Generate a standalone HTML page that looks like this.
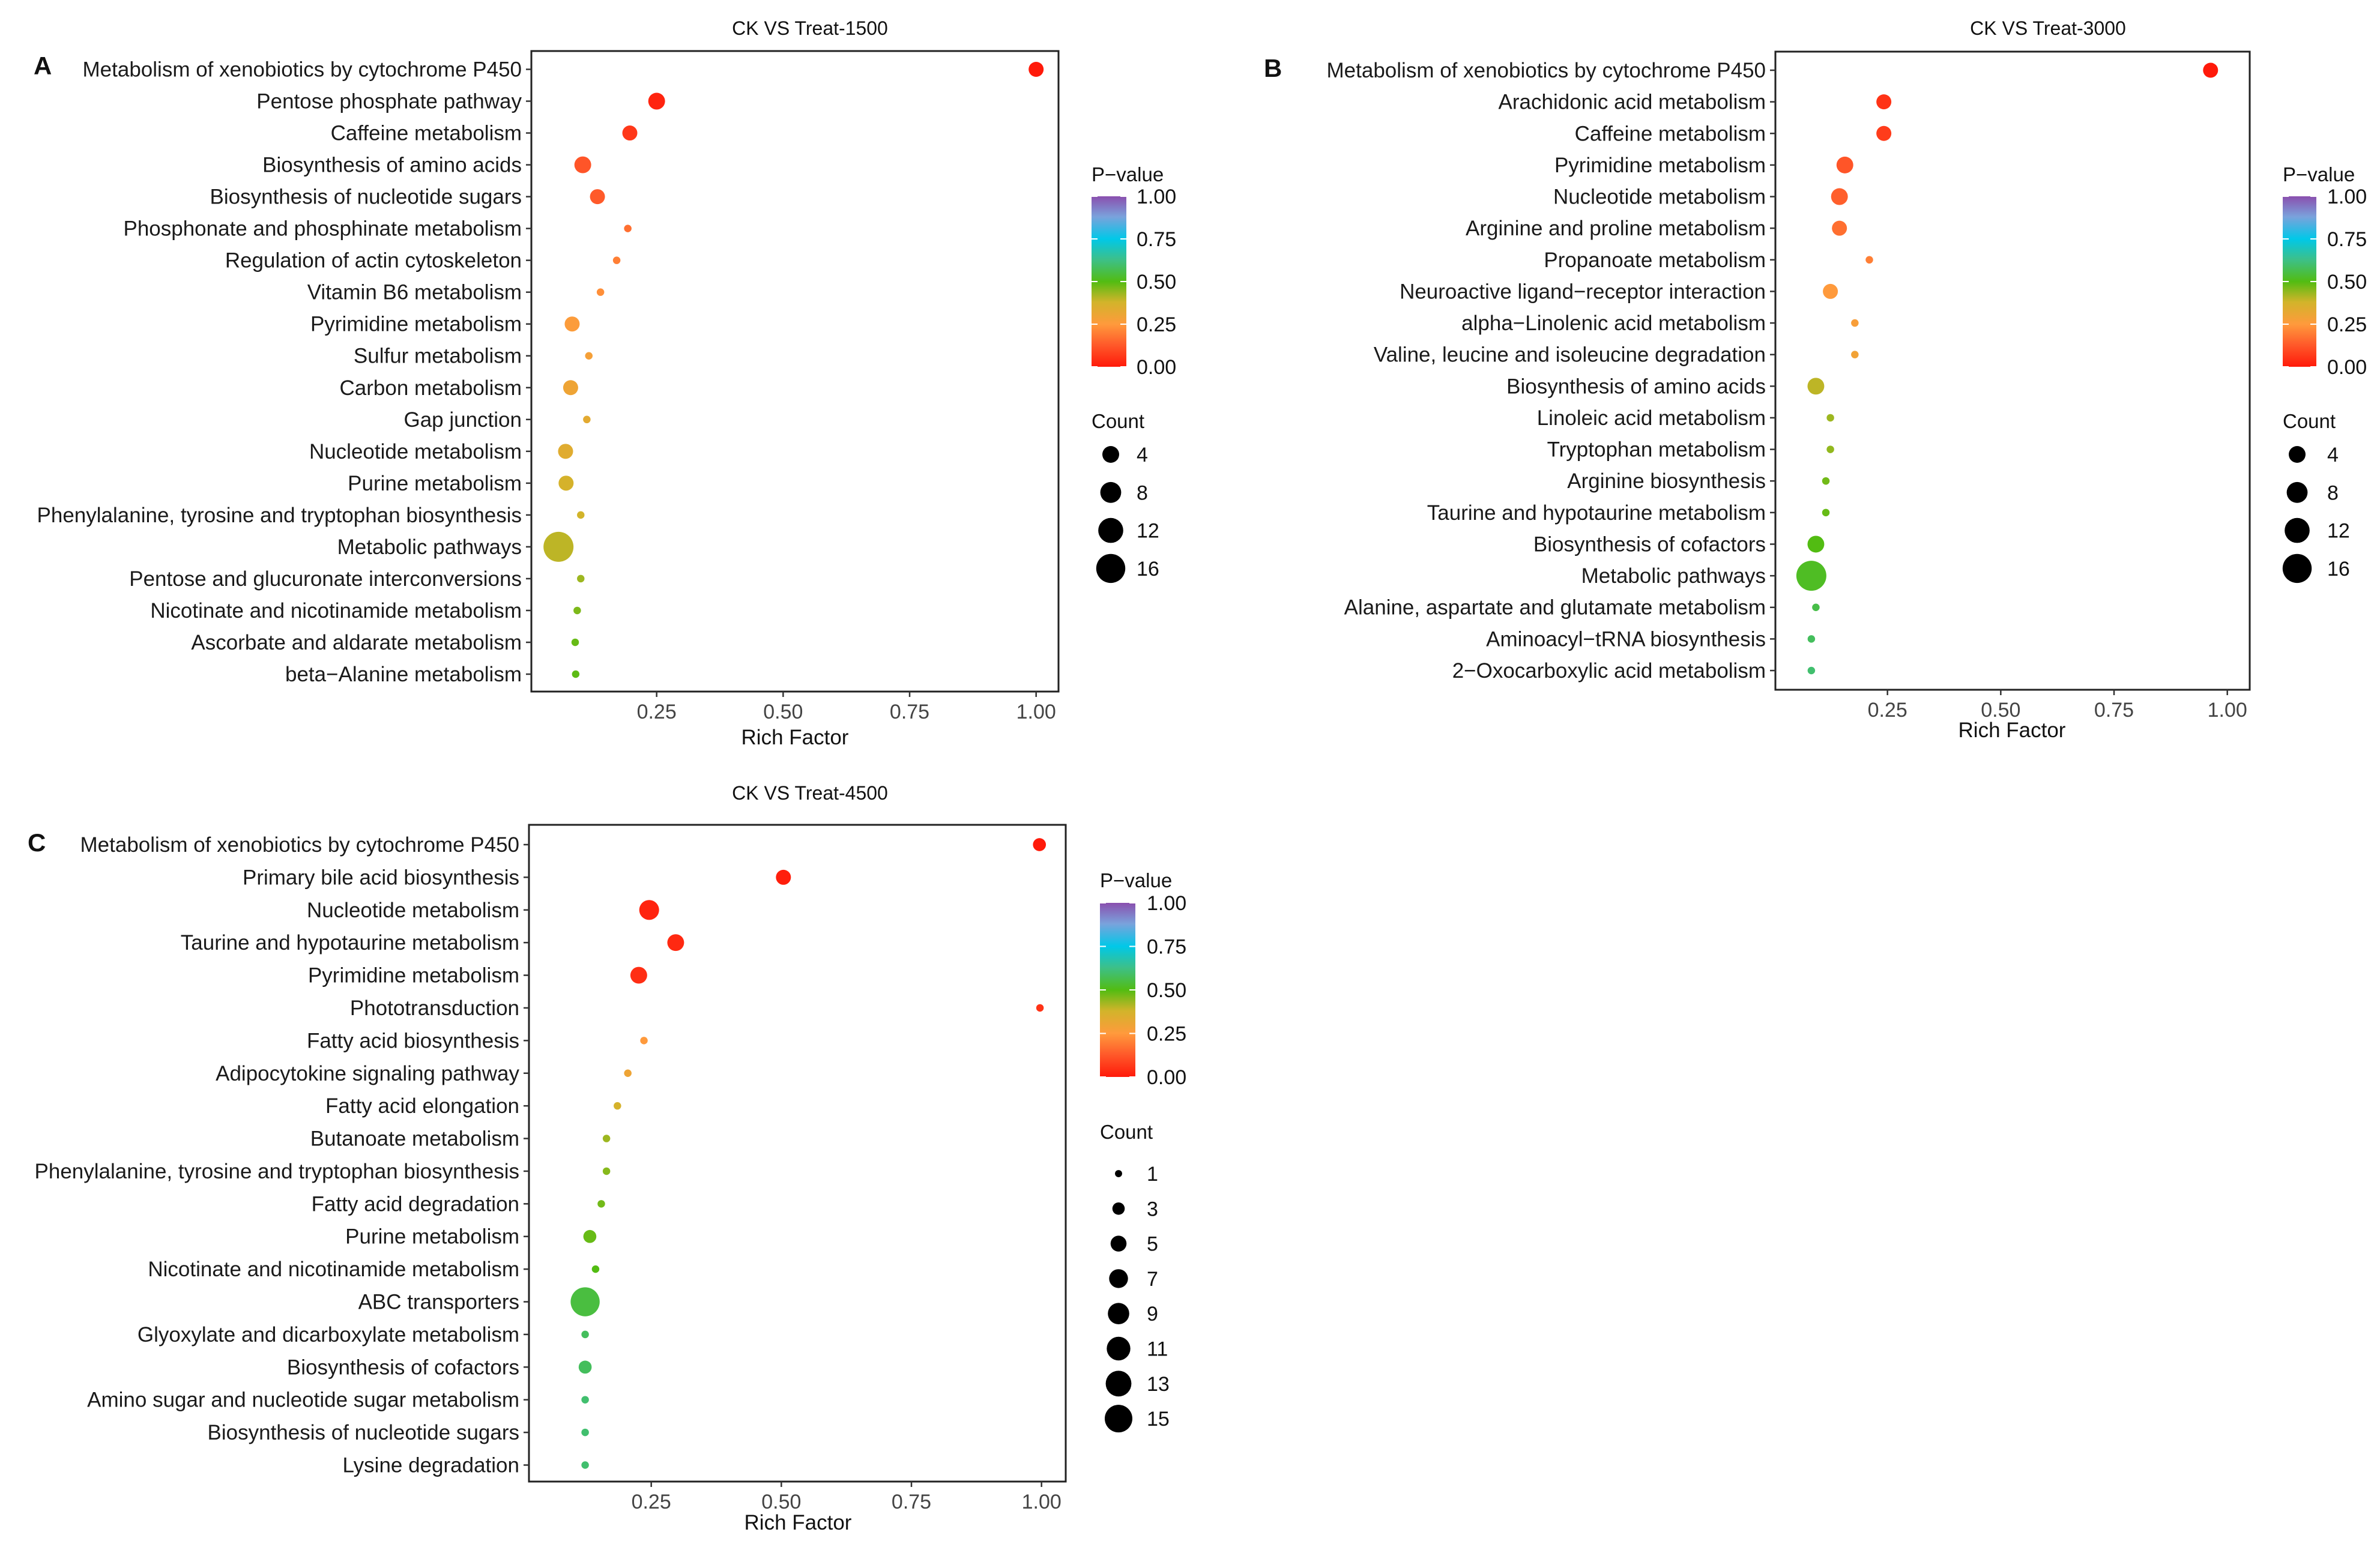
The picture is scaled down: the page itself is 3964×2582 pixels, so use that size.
<!DOCTYPE html>
<html><head><meta charset="utf-8"><style>
html,body{margin:0;padding:0;background:#fff}
svg{display:block;font-family:"Liberation Sans",Arial,sans-serif}
</style></head><body>
<svg id="fig" width="3964" height="2582" viewBox="0 0 3964 2582" xmlns="http://www.w3.org/2000/svg">
<defs>
<linearGradient id="pgrad" x1="0" y1="1" x2="0" y2="0">
<stop offset="0" stop-color="#ff1a0a"/>
<stop offset="0.13" stop-color="#ff5a2a"/>
<stop offset="0.25" stop-color="#ff9a3c"/>
<stop offset="0.38" stop-color="#d2b42a"/>
<stop offset="0.5" stop-color="#52bc12"/>
<stop offset="0.63" stop-color="#3cc08a"/>
<stop offset="0.75" stop-color="#00c8e8"/>
<stop offset="0.88" stop-color="#7aa2dc"/>
<stop offset="1" stop-color="#8a4fae"/>
</linearGradient>
</defs>
</svg>
<script>
// ---------- Panel A data ----------
const namesA = ["Metabolism of xenobiotics by cytochrome P450","Pentose phosphate pathway","Caffeine metabolism","Biosynthesis of amino acids","Biosynthesis of nucleotide sugars","Phosphonate and phosphinate metabolism","Regulation of actin cytoskeleton","Vitamin B6 metabolism","Pyrimidine metabolism","Sulfur metabolism","Carbon metabolism","Gap junction","Nucleotide metabolism","Purine metabolism","Phenylalanine, tyrosine and tryptophan biosynthesis","Metabolic pathways","Pentose and glucuronate interconversions","Nicotinate and nicotinamide metabolism","Ascorbate and aldarate metabolism","beta\u2212Alanine metabolism"];
const richA = [1.00,0.25,0.197,0.104,0.133,0.193,0.171,0.139,0.083,0.116,0.080,0.112,0.070,0.071,0.100,0.056,0.100,0.093,0.089,0.090];
const pA = [0.0,0.02,0.06,0.12,0.13,0.17,0.20,0.23,0.26,0.28,0.30,0.33,0.34,0.37,0.38,0.40,0.43,0.46,0.48,0.49];
const countA = [4,5,4,5,4,1,1,1,4,1,4,1,4,4,1,16,1,1,1,1];
// ---------- Panel B data ----------
const namesB = ["Metabolism of xenobiotics by cytochrome P450","Arachidonic acid metabolism","Caffeine metabolism","Pyrimidine metabolism","Nucleotide metabolism","Arginine and proline metabolism","Propanoate metabolism","Neuroactive ligand\u2212receptor interaction","alpha\u2212Linolenic acid metabolism","Valine, leucine and isoleucine degradation","Biosynthesis of amino acids","Linoleic acid metabolism","Tryptophan metabolism","Arginine biosynthesis","Taurine and hypotaurine metabolism","Biosynthesis of cofactors","Metabolic pathways","Alanine, aspartate and glutamate metabolism","Aminoacyl\u2212tRNA biosynthesis","2\u2212Oxocarboxylic acid metabolism"];
const richB = [0.963,0.242,0.242,0.156,0.144,0.144,0.210,0.124,0.178,0.178,0.092,0.124,0.124,0.114,0.114,0.092,0.082,0.092,0.082,0.082];
const pB = [0.0,0.05,0.07,0.12,0.14,0.17,0.20,0.25,0.27,0.29,0.40,0.43,0.44,0.47,0.48,0.50,0.52,0.56,0.58,0.60];
const countB = [4,4,4,5,5,4,1,4,1,1,5,1,1,1,1,5,16,1,1,1];
// ---------- Panel C data ----------
const namesC = ["Metabolism of xenobiotics by cytochrome P450","Primary bile acid biosynthesis","Nucleotide metabolism","Taurine and hypotaurine metabolism","Pyrimidine metabolism","Phototransduction","Fatty acid biosynthesis","Adipocytokine signaling pathway","Fatty acid elongation","Butanoate metabolism","Phenylalanine, tyrosine and tryptophan biosynthesis","Fatty acid degradation","Purine metabolism","Nicotinate and nicotinamide metabolism","ABC transporters","Glyoxylate and dicarboxylate metabolism","Biosynthesis of cofactors","Amino sugar and nucleotide sugar metabolism","Biosynthesis of nucleotide sugars","Lysine degradation"];
const richC = [0.996,0.504,0.246,0.297,0.226,0.997,0.236,0.205,0.185,0.164,0.164,0.154,0.132,0.143,0.123,0.123,0.123,0.123,0.123,0.123];
const pC = [0.0,0.01,0.02,0.03,0.04,0.05,0.25,0.30,0.37,0.43,0.45,0.47,0.48,0.50,0.55,0.58,0.58,0.60,0.60,0.60];
const countC = [3,4,7,5,5,1,1,1,1,1,1,1,3,1,15,1,3,1,1,1];
// ---------- shared ----------
const xTicks = [0.25,0.50,0.75,1.00];
const xTickLabels = ["0.25","0.50","0.75","1.00"];
const pTicks = [0,0.25,0.5,0.75,1];
const pTickLabels = ["0.00","0.25","0.50","0.75","1.00"];
const legendCountsAB = [4,8,12,16];
const legendCountsC = [1,3,5,7,9,11,13,15];

const NS = "http://www.w3.org/2000/svg";
const svg = document.getElementById('fig');
function el(tag, attrs, parent, text){
  const e = document.createElementNS(NS, tag);
  for (const k in attrs) e.setAttribute(k, attrs[k]);
  if (text !== undefined) e.textContent = text;
  (parent || svg).appendChild(e);
  return e;
}
const stops = [[0,[255,26,10]],[0.13,[255,90,42]],[0.25,[255,154,60]],[0.38,[210,180,42]],[0.5,[82,188,18]],[0.63,[60,192,138]],[0.75,[0,200,232]],[0.88,[122,162,220]],[1,[138,79,174]]];
function pColor(p){
  for (let i=0;i<stops.length-1;i++){
    const [a,ca]=stops[i],[b,cb]=stops[i+1];
    if (p<=b){const t=(p-a)/(b-a);return 'rgb('+ca.map((v,j)=>Math.round(v+(cb[j]-v)*t)).join(',')+')';}
  }
  return 'rgb(138,79,174)';
}
function sizeR(c){ return 6.25*Math.sqrt(c); }
function legendRAB(c){ return 14 + 0.85*(c-4); }
function legendRC(c){ return 6.25*Math.sqrt(c)*0.95; }

function panel(cfg, names, rich, pv, counts, legendCounts, legR){
  const g = el('g', {});
  
  
  const xs = v => cfg.x0 + v*cfg.ux;
  const n = names.length;
  const ys = i => cfg.yFirst + i*(cfg.yLast-cfg.yFirst)/(n-1);
  const t = el('text', {x:cfg.titleX, y:cfg.titleY, 'font-size':32, 'text-anchor':'middle', fill:'#111'}, g, cfg.title);
  
  
  const L = el('text', {x:cfg.letterX, y:cfg.letterY, 'font-size':42, 'font-weight':'bold', fill:'#111'}, g, cfg.letter);
  
  
  const box = el('rect', {x:cfg.left, y:cfg.top, width:cfg.right-cfg.left, height:cfg.bottom-cfg.top, fill:'none', stroke:'#222', 'stroke-width':3}, g);
  
  
  for (let i=0;i<n;i++){
    const y = ys(i);
    el('line', {x1:cfg.left-9, x2:cfg.left, y1:y, y2:y, stroke:'#333', 'stroke-width':2.5}, g);
    const lab = el('text', {x:cfg.left-16, y:y+12, 'font-size':35, 'text-anchor':'end', fill:'#1a1a1a'}, g, names[i]);
    
    
  }
  xTicks.forEach((v,i)=>{
    const x = xs(v);
    el('line', {x1:x, x2:x, y1:cfg.bottom, y2:cfg.bottom+9, stroke:'#333', 'stroke-width':2.5}, g);
    const tl = el('text', {x:x, y:cfg.bottom+45, 'font-size':34, 'text-anchor':'middle', fill:'#444'}, g, xTickLabels[i]);
    
    
  });
  const xt = el('text', {x:cfg.xTitleX, y:cfg.xTitleY, 'font-size':35, 'text-anchor':'middle', fill:'#111'}, g, 'Rich Factor');
  
  
  for (let i=0;i<n;i++){
    const c = el('circle', {cx:xs(rich[i]), cy:ys(i), r:sizeR(counts[i]), fill:pColor(pv[i])}, g);
    
    
  }
  const lg = cfg.leg;
  const pt = el('text', {x:lg.barX, y:lg.pTitleY, 'font-size':33, fill:'#111'}, g, 'P\u2212value');
  
  
  const bar = el('rect', {x:lg.barX, y:lg.barTop, width:lg.barW, height:lg.barBot-lg.barTop, fill:'url(#pgrad)'}, g);
  
  
  pTicks.forEach((v,i)=>{
    const y = lg.barBot - v*(lg.barBot-lg.barTop);
    el('line', {x1:lg.barX, x2:lg.barX+10, y1:y, y2:y, stroke:'#fff', 'stroke-width':2}, g);
    el('line', {x1:lg.barX+lg.barW-10, x2:lg.barX+lg.barW, y1:y, y2:y, stroke:'#fff', 'stroke-width':2}, g);
    const tl = el('text', {x:lg.labX, y:y+12, 'font-size':34, fill:'#111'}, g, pTickLabels[i]);
    
    
  });
  const ct = el('text', {x:lg.barX, y:lg.cTitleY, 'font-size':33, fill:'#111'}, g, 'Count');
  
  
  legendCounts.forEach((c,i)=>{
    const y = lg.cFirst + i*lg.cStep;
    const k = el('circle', {cx:lg.cX, cy:y, r:legR(c), fill:'#000'}, g);
    
    
    const kl = el('text', {x:lg.labX, y:y+12, 'font-size':34, fill:'#111'}, g, String(c));
    
    
  });
}

panel({id:'a', title:'CK VS Treat-1500', titleX:1349, titleY:58, letter:'A', letterX:56, letterY:124,
  left:885, right:1763, top:85, bottom:1152, x0:883, ux:842.7, yFirst:115.5, yLast:1123,
  xTitleX:1324, xTitleY:1240,
  leg:{barX:1818, barW:58, barTop:327, barBot:611, labX:1893, pTitleY:302, cTitleY:713, cFirst:757, cStep:63.3, cX:1850}},
  namesA, richA, pA, countA, legendCountsAB, legendRAB);

panel({id:'b', title:'CK VS Treat-3000', titleX:3411, titleY:58, letter:'B', letterX:2105, letterY:128,
  left:2957, right:3747, top:86, bottom:1149, x0:2955, ux:754.7, yFirst:117, yLast:1117,
  xTitleX:3351, xTitleY:1228,
  leg:{barX:3802, barW:56, barTop:327, barBot:611, labX:3876, pTitleY:302, cTitleY:713, cFirst:757, cStep:63.3, cX:3826}},
  namesB, richB, pB, countB, legendCountsAB, legendRAB);

panel({id:'c', title:'CK VS Treat-4500', titleX:1349, titleY:1332, letter:'C', letterX:46, letterY:1418,
  left:881, right:1775, top:1374, bottom:2468, x0:868, ux:866.7, yFirst:1407, yLast:2440.5,
  xTitleX:1329, xTitleY:2548,
  leg:{barX:1832, barW:59, barTop:1504, barBot:1794, labX:1910, pTitleY:1478, cTitleY:1897, cFirst:1955, cStep:58.3, cX:1863}},
  namesC, richC, pC, countC, legendCountsC, legendRC);
</script>
</body></html>
